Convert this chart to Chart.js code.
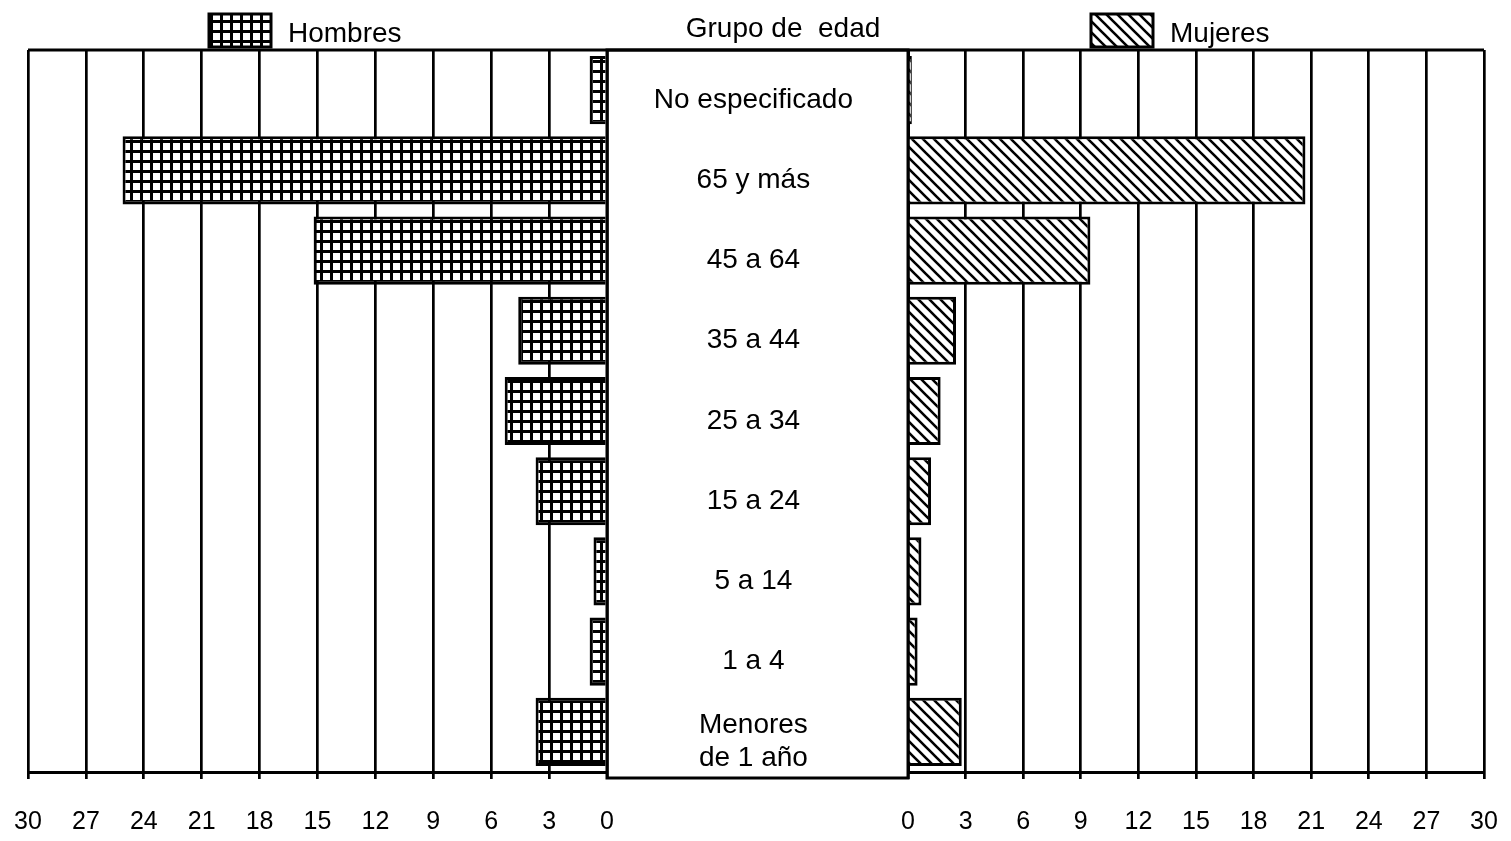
<!DOCTYPE html>
<html>
<head>
<meta charset="utf-8">
<script src="https://cdn.jsdelivr.net/npm/chart.js@4.4.0/dist/chart.umd.min.js"></script>
<style>
  html, body { margin: 0; padding: 0; background: #fff; }
  #wrap { position: relative; width: 1511px; height: 841px; overflow: hidden; }
  #left { position: absolute; left: 0; top: 0; }
  #right { position: absolute; left: 597px; top: 0; }
</style>
</head>
<body>
<div id="wrap">
  <canvas id="left" width="620" height="841"></canvas>
  <canvas id="right" width="914" height="841"></canvas>
</div>
<script>
const ageGroups = ['No especificado', '65 y más', '45 a 64', '35 a 44', '25 a 34', '15 a 24', '5 a 14', '1 a 4', ['Menores', 'de 1 año']];
const hombres = [0.9, 25.1, 15.2, 4.6, 5.3, 3.7, 0.7, 0.9, 3.7];
const mujeres = [0.2, 20.7, 9.5, 2.5, 1.7, 1.2, 0.7, 0.5, 2.8];
const xMax = 30;
const xStep = 3;

const FONT = '"Liberation Sans", Arial, Helvetica, sans-serif';

// grid pattern for men
function gridPattern() {
  const c = document.createElement('canvas');
  c.width = 10; c.height = 10;
  const g = c.getContext('2d');
  g.fillStyle = '#000';
  g.fillRect(0, 0, 10, 10);
  g.fillStyle = '#fff';
  g.fillRect(3, 3, 7, 7);
  return g.createPattern(c, 'repeat');
}

// diagonal hatch for women
function hatchPattern() {
  const s = 11;
  const c = document.createElement('canvas');
  c.width = s; c.height = s;
  const g = c.getContext('2d');
  g.fillStyle = '#fff';
  g.fillRect(0, 0, s, s);
  g.strokeStyle = '#000';
  g.lineWidth = 2.6;
  g.beginPath();
  g.moveTo(-s, 0); g.lineTo(s, 2 * s);
  g.moveTo(0, 0); g.lineTo(s, s);
  g.moveTo(0, -s); g.lineTo(2 * s, s);
  g.stroke();
  return g.createPattern(c, 'repeat');
}

const menFill = gridPattern();
const womenFill = hatchPattern();

// frame line on top + legend key
function framePlugin(key) {
  return {
    id: 'frame',
    afterDraw(chart) {
      const { ctx, chartArea } = chart;
      ctx.save();
      ctx.strokeStyle = '#000';
      ctx.lineWidth = 3;
      if (key.box) {
        // center box with age labels
        ctx.strokeRect(key.box, chartArea.top, chartArea.left - key.box, chartArea.bottom + 6 - chartArea.top);
      }
      ctx.beginPath();
      ctx.moveTo(key.box || chartArea.left, chartArea.top);
      ctx.lineTo(chartArea.right, chartArea.top);
      ctx.stroke();
      // legend
      ctx.fillStyle = key.fill;
      ctx.fillRect(key.x, 14, 62, 33);
      ctx.strokeRect(key.x, 14, 62, 33);
      ctx.fillStyle = '#000';
      ctx.font = '28px ' + FONT;
      ctx.textBaseline = 'middle';
      ctx.textAlign = 'left';
      ctx.fillText(key.label, key.x + 79, 34);
      if (key.title) {
        ctx.textAlign = 'center';
        ctx.fillText(key.title, key.titleX, 29);
      }
      ctx.restore();
    }
  };
}

function xScale(reverse) {
  return {
    reverse: reverse,
    min: 0,
    max: xMax,
    afterFit(s) {
      s.height = 69;
      s.paddingLeft = 0;
      s.paddingRight = 0;
    },
    ticks: {
      stepSize: xStep,
      color: '#000',
      padding: 28,
      font: { family: FONT, size: 25 }
    },
    grid: { color: '#000', lineWidth: 2.7, tickLength: 7, tickColor: '#000' },
    border: { color: '#000', width: 3 }
  };
}

const common = {
  responsive: false,
  animation: false,
  indexAxis: 'y',
  plugins: { legend: { display: false }, tooltip: { enabled: false } }
};

new Chart(document.getElementById('left'), {
  type: 'bar',
  data: {
    labels: ageGroups,
    datasets: [{
      label: 'Hombres',
      data: hombres,
      backgroundColor: menFill,
      borderColor: '#000',
      borderWidth: 3,
      categoryPercentage: 1,
      barPercentage: 0.85
    }]
  },
  options: Object.assign({}, common, {
    layout: { padding: { left: 28, right: 13, top: 50, bottom: 0 } },
    scales: {
      x: xScale(true),
      y: { display: false }
    }
  }),
  plugins: [framePlugin({ x: 209, label: 'Hombres', fill: menFill })]
});

new Chart(document.getElementById('right'), {
  type: 'bar',
  data: {
    labels: ageGroups,
    datasets: [{
      label: 'Mujeres',
      data: mujeres,
      backgroundColor: womenFill,
      borderColor: '#000',
      borderWidth: 3,
      categoryPercentage: 1,
      barPercentage: 0.85
    }]
  },
  options: Object.assign({}, common, {
    layout: { padding: { left: 0, right: 27, top: 50, bottom: 0 } },
    scales: {
      x: xScale(false),
      y: {
        afterFit(s) {
          s.width = 311;
          s.paddingTop = 0;
          s.paddingBottom = 0;
        },
        ticks: {
          color: '#000',
          crossAlign: 'center',
          padding: 55,
          labelOffset: 10,
          font: { family: FONT, size: 28 }
        },
        grid: { display: false, drawTicks: false },
        border: { color: '#000', width: 3 }
      }
    }
  }),
  plugins: [framePlugin({ x: 494, label: 'Mujeres', fill: womenFill, box: 10, title: 'Grupo de  edad', titleX: 186 })]
});
</script>
</body>
</html>
